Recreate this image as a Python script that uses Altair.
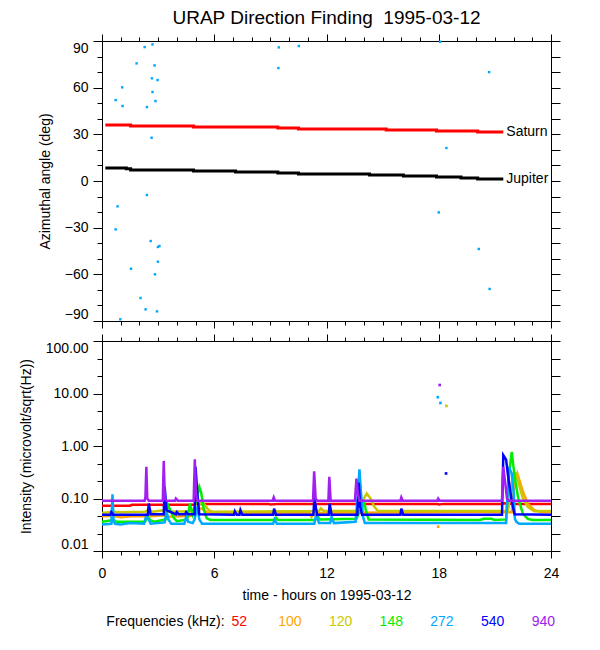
import altair as alt
import pandas as pd

FONT = "Liberation Sans"
TITLE = "URAP Direction Finding\u00a0 1995-03-12"
X_TITLE = "time - hours on 1995-03-12"
Y1_TITLE = "Azimuthal angle (deg)"
Y2_TITLE = "Intensity (microvolt/sqrt(Hz))"
LEGEND_HEADER = "Frequencies (kHz):"

# axis tick values
hour_major = [0, 6, 12, 18, 24]
hour_minor = [h for h in range(25) if h % 6]
deg_major = [-90, -60, -30, 0, 30, 60, 90]
deg_minor = [d for d in range(-90, 91, 10) if d % 30]
deg_all = list(range(-90, 91, 10))
int_major = [0.01, 0.1, 1, 10, 100]
int_minor = [10 ** (k / 3) for k in range(-6, 7) if k % 3]
int_all = [10 ** (k / 3) for k in range(-6, 7)]

# ---------------- top panel: direction of Saturn / Jupiter ----------------
planet_names = ["Saturn", "Jupiter"]
sat_t = [0.18, 1.53, 4.89, 9.40, 10.50, 15.19, 17.88, 20.08, 21.45]
sat_deg = [36.0, 35.4, 34.7, 34.1, 33.4, 32.8, 32.1, 31.5, 31.5]
jup_t = [0.18, 1.30, 1.53, 4.89, 7.14, 9.40, 10.50, 14.30, 16.11, 17.88, 19.19, 20.08, 21.45]
jup_deg = [8.3, 7.9, 7.1, 6.4, 5.8, 5.1, 4.5, 3.9, 3.2, 2.6, 1.9, 1.3, 1.3]

# scattered 272 kHz direction-finding points
df_t = [2.28, 2.70, 1.85, 2.81, 2.67, 2.97, 1.08, 2.70, 0.73, 2.86, 1.10, 2.40,
        2.65, 9.45, 10.52, 9.43, 18.07, 20.69, 18.41, 2.40, 0.83, 0.73, 18.00,
        2.60, 2.99, 3.07, 2.99, 1.55, 2.83, 20.14, 2.06, 20.72, 2.33, 2.94, 0.98]
df_deg = [86.1, 87.8, 75.6, 74.3, 66.0, 64.9, 60.2, 57.2, 52.0, 51.4, 48.2, 47.5,
          27.8, 85.9, 86.8, 72.6, 89.5, 70.0, 21.2, -9.0, -16.3, -31.1, -20.2,
          -38.6, -42.4, -41.8, -51.9, -56.4, -60.0, -43.7, -75.2, -69.4, -82.5,
          -83.8, -88.9]

# ---------------- bottom panel: intensities per frequency ----------------
freq_labels = ["52", "100", "120", "148", "272", "540", "940"]
freq_colors = ["#ff0000", "#ffa500", "#c8c800", "#00ee00", "#00a8ff", "#0000ff", "#a020f0"]

f52 = [(0, 0.073), (1.5, 0.073), (1.6, 0.076), (3.2, 0.076), (3.3, 0.074), (3.6, 0.076),
       (4.9, 0.076), (5.0, 0.079), (8.9, 0.079), (9.0, 0.077), (9.5, 0.079), (17.9, 0.079),
       (18.0, 0.077), (18.3, 0.079), (21.4, 0.079), (21.5, 0.081), (22.0, 0.079), (24, 0.079)]
f100 = [(0, 0.046), (0.5, 0.047), (1.0, 0.044), (1.6, 0.046), (2.3, 0.046), (2.45, 0.052),
        (2.6, 0.046), (3.3, 0.048), (3.5, 0.045), (4.8, 0.047), (5.0, 0.058), (5.3, 0.065),
        (5.6, 0.055), (6.0, 0.053), (11.1, 0.053), (11.2, 0.045), (11.3, 0.053), (18.0, 0.055),
        (19.7, 0.056), (21.3, 0.055), (21.9, 0.055), (22.05, 0.20), (22.2, 0.30), (22.5, 0.134),
        (22.76, 0.080), (23.1, 0.060), (23.5, 0.055), (24, 0.055)]
f120 = [(0, 0.053), (0.6, 0.056), (1.0, 0.055), (2.3, 0.056), (2.5, 0.062), (2.7, 0.056),
        (3.35, 0.060), (3.5, 0.056), (4.9, 0.057), (5.2, 0.075), (5.35, 0.086), (5.5, 0.075),
        (5.7, 0.060), (5.9, 0.056), (11.6, 0.058), (11.7, 0.065), (11.85, 0.058), (13.9, 0.058),
        (14.0, 0.10), (14.15, 0.124), (14.35, 0.10), (14.55, 0.070), (14.75, 0.058), (21.7, 0.058),
        (21.85, 0.15), (22.0, 0.30), (22.13, 0.30), (22.3, 0.18), (22.5, 0.10), (22.76, 0.069),
        (23.1, 0.057), (24, 0.058)]
f148 = [(0, 0.036), (0.45, 0.038), (0.6, 0.040), (0.75, 0.036), (2.3, 0.036), (2.45, 0.045),
        (2.6, 0.038), (2.8, 0.036), (3.4, 0.040), (3.5, 0.079), (3.65, 0.060), (3.85, 0.042),
        (4.0, 0.037), (4.55, 0.040), (4.7, 0.080), (4.85, 0.050), (5.0, 0.080), (5.2, 0.166),
        (5.3, 0.13), (5.45, 0.060), (5.6, 0.042), (5.8, 0.039), (9.2, 0.039), (9.3, 0.043),
        (9.4, 0.039), (11.4, 0.039), (11.5, 0.046), (11.65, 0.040), (13.6, 0.041), (13.9, 0.070),
        (14.0, 0.092), (14.1, 0.060), (14.25, 0.040), (20.2, 0.039), (20.4, 0.041), (20.8, 0.041),
        (21.0, 0.039), (21.6, 0.040), (21.75, 0.28), (21.9, 0.77), (22.07, 0.24), (22.25, 0.10),
        (22.5, 0.051), (22.76, 0.041), (23.0, 0.039), (24, 0.039)]
f272 = [(0, 0.032), (0.5, 0.033), (0.56, 0.12), (0.62, 0.036), (0.7, 0.033), (1.0, 0.032),
        (1.5, 0.034), (2.25, 0.033), (2.35, 0.045), (2.5, 0.040), (2.6, 0.033), (3.35, 0.035),
        (3.45, 0.055), (3.55, 0.040), (3.7, 0.033), (4.4, 0.033), (4.5, 0.045), (4.6, 0.036),
        (4.85, 0.034), (4.95, 0.040), (5.1, 0.070), (5.2, 0.040), (5.35, 0.033), (9.15, 0.033),
        (9.22, 0.040), (9.35, 0.033), (11.35, 0.033), (11.45, 0.050), (11.6, 0.034), (12.2, 0.034),
        (12.27, 0.045), (12.4, 0.034), (13.55, 0.036), (13.7, 0.15), (13.76, 0.36), (13.85, 0.12),
        (13.95, 0.045), (14.05, 0.034), (21.6, 0.034), (21.75, 0.40), (21.9, 0.30), (22.0, 0.134),
        (22.07, 0.041), (22.15, 0.036), (22.3, 0.033), (24, 0.033)]
f540 = [(0, 0.049), (0.45, 0.049), (0.5, 0.055), (0.6, 0.049), (2.45, 0.049), (2.5, 0.080),
        (2.6, 0.050), (3.3, 0.050), (3.35, 0.166), (3.45, 0.060), (3.95, 0.050), (4.0, 0.055),
        (4.1, 0.050), (4.45, 0.050), (4.5, 0.055), (4.6, 0.050), (4.95, 0.050), (5.0, 0.40),
        (5.1, 0.12), (5.2, 0.050), (7.05, 0.049), (7.1, 0.057), (7.2, 0.049), (7.35, 0.049),
        (7.4, 0.060), (7.5, 0.049), (9.15, 0.049), (9.2, 0.064), (9.3, 0.049), (11.3, 0.049),
        (11.35, 0.10), (11.5, 0.049), (12.12, 0.049), (12.17, 0.080), (12.27, 0.049),
        (13.65, 0.049), (13.72, 0.20), (13.8, 0.070), (13.9, 0.049), (15.95, 0.049),
        (16.0, 0.064), (16.1, 0.049), (21.38, 0.049), (21.45, 0.67), (21.6, 0.55), (21.7, 0.28),
        (21.9, 0.09), (22.05, 0.050), (24, 0.049)]
f940 = [(0, 0.091), (2.28, 0.091), (2.32, 0.105), (2.37, 0.40), (2.42, 0.10), (2.5, 0.091),
        (3.25, 0.091), (3.30, 0.52), (3.36, 0.10), (3.45, 0.091), (3.9, 0.091), (3.95, 0.10),
        (4.05, 0.091), (4.9, 0.091), (4.96, 0.56), (5.03, 0.12), (5.1, 0.091), (9.12, 0.091),
        (9.18, 0.105), (9.25, 0.091), (11.28, 0.091), (11.34, 0.33), (11.42, 0.10), (11.5, 0.091),
        (12.1, 0.091), (12.15, 0.26), (12.22, 0.091), (13.52, 0.091), (13.6, 0.24), (13.68, 0.12),
        (13.76, 0.091), (15.95, 0.091), (16.0, 0.105), (16.08, 0.091), (17.92, 0.091),
        (17.97, 0.10), (18.05, 0.091), (21.38, 0.091), (21.45, 0.40), (21.55, 0.20), (21.65, 0.10),
        (21.72, 0.091), (24, 0.091)]
freq_series = [f52, f100, f120, f148, f272, f540, f940]

# isolated samples
iso_freq = ["940", "272", "272", "120", "540", "100"]
iso_t = [18.05, 17.95, 18.09, 18.41, 18.39, 17.97]
iso_v = [14.5, 8.5, 6.6, 5.8, 0.30, 0.029]

# ---------------- helpers ----------------
xs = alt.Scale(domain=[0, 24], nice=False, zero=False)
ys1 = alt.Scale(domain=[-90, 90], nice=False, zero=False)
ys2 = alt.Scale(type="log", domain=[0.01, 100], nice=False)


def axis(orient, values, size, **kw):
    return alt.Axis(orient=orient, values=values, tickSize=size, grid=False, **kw)


def frame(df, xf, yf, ys, xaxis, yaxis):
    return alt.Chart(df).mark_point(opacity=0).encode(
        x=alt.X(xf, scale=xs, axis=xaxis),
        y=alt.Y(yf, scale=ys, axis=yaxis),
    )


# ---------------- top chart ----------------
sat_df = pd.DataFrame({"t": sat_t, "deg": sat_deg})
jup_df = pd.DataFrame({"t": jup_t, "deg": jup_deg})
pts_df = pd.DataFrame({"t": df_t, "deg": df_deg})
lab_df = pd.DataFrame({"name": planet_names, "t": [sat_t[-1], jup_t[-1]],
                       "deg": [sat_deg[-1], jup_deg[-1]]})

X1 = alt.X("t:Q", scale=xs, axis=None)
Y1 = alt.Y("deg:Q", scale=ys1, axis=None)

top_layers = [
    alt.Chart(pts_df).mark_square(size=6, color=freq_colors[4], opacity=1).encode(x=X1, y=Y1),
    alt.Chart(sat_df).mark_line(color="#ff0000", strokeWidth=3, interpolate="step-after").encode(x=X1, y=Y1),
    alt.Chart(jup_df).mark_line(color="#000000", strokeWidth=3, interpolate="step-after").encode(x=X1, y=Y1),
    alt.Chart(lab_df).mark_text(align="left", baseline="middle", dx=3, font=FONT, fontSize=14,
                                color="black").encode(x=X1, y=Y1, text="name:N"),
    frame(sat_df, "t:Q", "deg:Q", ys1,
          axis("bottom", hour_major, 7, labels=False, title=None),
          axis("left", deg_major, 9, labelFlush=True, labelPadding=5, title=Y1_TITLE, titlePadding=12)),
    frame(sat_df, "t:Q", "deg:Q", ys1,
          axis("bottom", hour_minor, 4, labels=False, domain=False, title=None),
          axis("left", deg_minor, 5, labels=False, domain=False, title=None)),
    frame(sat_df, "t:Q", "deg:Q", ys1,
          axis("top", hour_major, 7, labels=False, title=None),
          axis("right", deg_all, 9, labels=False, title=None)),
    frame(sat_df, "t:Q", "deg:Q", ys1,
          axis("top", hour_minor, 4, labels=False, domain=False, title=None),
          None),
]
top = alt.layer(*top_layers).resolve_axis(x="independent", y="independent").properties(
    width=449, height=280,
    title=alt.TitleParams(TITLE, font=FONT, fontSize=19, fontWeight="normal", anchor="middle",
                          frame="group", offset=6, color="black"),
)

# ---------------- bottom chart ----------------
X2 = alt.X("t:Q", scale=xs, axis=None)
Y2 = alt.Y("v:Q", scale=ys2, axis=None)
bottom_layers = []
for lab, col, ser in zip(freq_labels, freq_colors, freq_series):
    d = pd.DataFrame(ser, columns=["t", "v"])
    d["i"] = range(len(d))
    bottom_layers.append(
        alt.Chart(d).mark_line(color=col, strokeWidth=2.5).encode(x=X2, y=Y2, order="i:Q")
    )
iso_df = pd.DataFrame({"f": iso_freq, "t": iso_t, "v": iso_v})
bottom_layers.append(
    alt.Chart(iso_df).mark_square(size=7, opacity=1).encode(
        x=X2, y=Y2,
        color=alt.Color("f:N", scale=alt.Scale(domain=freq_labels, range=freq_colors), legend=None))
)
base_df = pd.DataFrame({"t": [0, 24], "v": [0.1, 1]})
bottom_layers += [
    frame(base_df, "t:Q", "v:Q", ys2,
          axis("bottom", hour_major, 7, labelPadding=8, labelFlush=False, title=X_TITLE, titlePadding=8),
          axis("left", int_major, 9, format=".2f", labelFlush=True, labelPadding=5,
               title=Y2_TITLE, titlePadding=12)),
    frame(base_df, "t:Q", "v:Q", ys2,
          axis("bottom", hour_minor, 4, labels=False, domain=False, title=None),
          axis("left", int_minor, 5, labels=False, domain=False, title=None)),
    frame(base_df, "t:Q", "v:Q", ys2,
          axis("top", hour_major, 7, labels=False, title=None),
          axis("right", int_all, 9, labels=False, title=None)),
    frame(base_df, "t:Q", "v:Q", ys2,
          axis("top", hour_minor, 4, labels=False, domain=False, title=None),
          None),
]
bottom = alt.layer(*bottom_layers).resolve_axis(x="independent", y="independent").properties(
    width=449, height=210)

# ---------------- legend row ----------------
all_labels = [LEGEND_HEADER] + freq_labels
leg_df = pd.DataFrame({"label": freq_labels})
head_df = pd.DataFrame({"label": [LEGEND_HEADER]})
LX = alt.X("label:N", sort=None, axis=None,
           scale=alt.Scale(type="point", domain=all_labels, range=[86.6, 441.3], padding=0))
legend = alt.layer(
    alt.Chart(head_df).mark_text(align="right", dx=36, dy=41, font=FONT, fontSize=14,
                                 color="black").encode(x=LX, text="label:N"),
    alt.Chart(leg_df).mark_text(align="center", dy=41, font=FONT, fontSize=14).encode(
        x=LX, text="label:N",
        color=alt.Color("label:N", scale=alt.Scale(domain=freq_labels, range=freq_colors), legend=None)),
).properties(width=449, height=20)

chart = alt.vconcat(top, bottom, legend, spacing=20, bounds="flush").properties(
    padding={"left": 11, "top": 0, "right": 5, "bottom": 5}, background="white"
).configure_view(stroke=None).configure_axis(
    labelFont=FONT, titleFont=FONT, labelFontSize=14, titleFontSize=14,
    titleFontWeight="normal", labelColor="black", titleColor="black",
    domainColor="black", tickColor="black", domainWidth=1, tickWidth=1,
)

chart.save("out.html", embed_options={"renderer": "svg", "actions": False})
